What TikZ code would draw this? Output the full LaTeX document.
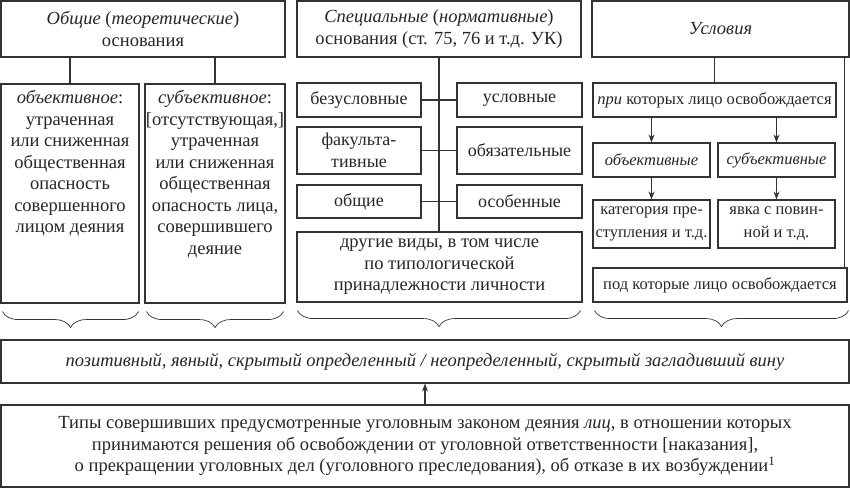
\documentclass[tikz,border=0pt]{standalone}
\usepackage{fontspec}
\setmainfont{Liberation Serif}
\usetikzlibrary{calc,arrows.meta}
\usetikzlibrary{decorations.pathreplacing}

\begin{document}
\begin{tikzpicture}[x=1pt, y=-1pt, line width=1.1pt, draw=black!80, text=black!85,
    box/.style={draw, inner sep=0pt, align=center},
    brc/.style={decorate, decoration={brace, mirror, amplitude=16pt}, line width=0.7pt},
    arr/.style={-{Stealth[length=8pt, width=6pt]}},
    font=\fontsize{18.5}{21.5}\selectfont]
    \useasboundingbox (0,0) rectangle (850,489);
    % верхний ряд
    \node[box, minimum width=284, minimum height=56] (gen) at (143,29) {\textit{Общие} (\textit{теоретические})\\основания};
    \node[box, minimum width=284, minimum height=56] (spec) at (439,29) {\textit{Специальные} (\textit{нормативные})\\основания (ст. 75, 76 и т.д. УК)};
    \node[box, minimum width=257, minimum height=56] (cond) at (720.5,29) {\textit{Условия}};
    % общие основания
    \node[box, minimum width=138, minimum height=219] (obj) at (70,193.5) {};
    \node[box, minimum width=140, minimum height=219] (subj) at (215,193.5) {};
    \node[align=center, anchor=north, inner sep=0pt] (objt) at (70,90) {\textit{объективное}:\\утраченная\\или сниженная\\общественная\\опасность\\совершенного\\лицом деяния};
    \node[align=center, anchor=north, inner sep=0pt] (subjt) at (215,90) {\textit{субъективное}:\\{}[отсутствующая,]\\утраченная\\или сниженная\\общественная\\опасность лица,\\совершившего\\деяние};
    \draw (obj.north |- gen.south) -- (obj.north);
    \draw (subj.north |- gen.south) -- (subj.north);
    % специальные основания
    \begin{scope}[font=\fontsize{18}{21.5}\selectfont]
    \node[box, minimum width=124, minimum height=34] (bez) at (359,100) {безусловные};
    \node[box, minimum width=125, minimum height=34] (usl) at (519.5,100) {условные};
    \node[box, minimum width=124, minimum height=47] (fak) at (359,150.5) {факульта-\\тивные};
    \node[box, minimum width=125, minimum height=47] (oblz) at (519.5,150.5) {обязательные};
    \node[box, minimum width=124, minimum height=33] (obsh) at (359,201.5) {общие};
    \node[box, minimum width=125, minimum height=33] (osob) at (519.5,201.5) {особенные};
    \end{scope}
    \node[box, minimum width=285, minimum height=70] (drug) at (439.5,267) {другие виды, в том числе\\по типологической\\принадлежности личности};
    \draw (spec.south) -- (spec.south |- drug.north);
    \draw (bez) -- (usl);
    \draw (fak) -- (oblz);
    \draw (obsh) -- (osob);
    % условия
    \begin{scope}[font=\fontsize{16.5}{23}\selectfont]
    \node[box, minimum width=243, minimum height=34] (pri) at (714.5,100) {\textit{при} которых лицо освобождается};
    \node[box, minimum width=117, minimum height=34] (objv) at (651.5,160) {\textit{объективные}};
    \node[box, minimum width=117, minimum height=34] (subv) at (776.5,160) {\textit{субъективные}};
    \node[box, minimum width=117, minimum height=48] (kat) at (651.5,224) {категория пре-\\ступления и т.д.};
    \node[box, minimum width=117, minimum height=48] (yav) at (776.5,224) {явка с повин-\\ной и т.д.};
    \node[box, minimum width=254, minimum height=34] (pod) at (720,285) {под которые лицо освобождается};
    \end{scope}
    \draw (pri.north) -- (pri.north |- cond.south);
    \draw ([xshift=-3pt]pod.north east) -- ([xshift=-3pt]pod.north east |- cond.south);
    \draw[arr] (objv.north |- pri.south) -- (objv.north);
    \draw[arr] (subv.north |- pri.south) -- (subv.north);
    \draw[arr] (objv) -- (kat);
    \draw[arr] (subv) -- (yav);
    % фигурные скобки
    \draw[brc] ([xshift=2pt, yshift=-8pt]obj.south west) -- ([xshift=-1pt, yshift=-8pt]obj.south east);
    \draw[brc] ([xshift=2pt, yshift=-8pt]subj.south west) -- ([xshift=-2pt, yshift=-8pt]subj.south east);
    \draw[brc] ([xshift=1pt, yshift=-8pt]drug.south west) -- ([xshift=-2pt, yshift=-8pt]drug.south east);
    \draw[brc] ([xshift=2pt, yshift=-8pt]pod.south west) -- ([xshift=1pt, yshift=-8pt]pod.south east);
    % нижний блок
    \node[box, minimum width=848, minimum height=43] (pos) at (425,361.5) {\itshape позитивный, явный, скрытый определенный / неопределенный, скрытый загладивший вину};
    \node[box, minimum width=848, minimum height=82] (typ) at (425,446) {Типы совершивших предусмотренные уголовным законом деяния \textit{лиц}, в отношении которых\\принимаются решения об освобождении от уголовной ответственности [наказания],\\о прекращении уголовных дел (уголовного преследования), об отказе в их возбуждении\textsuperscript{1}};
    \draw[arr] (typ) -- (pos);
\end{tikzpicture}
\end{document}
